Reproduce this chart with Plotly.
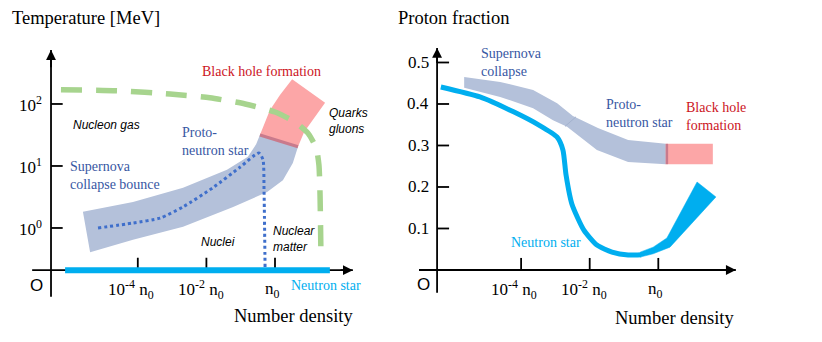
import plotly.graph_objects as go

SERIF = "Liberation Serif"
SANS = "Liberation Sans"
BAND = "#B4C1DA"
PINK = "#FCA6A7"
SEAM = "#C97A8C"
GREEN = "#A7D48E"
DOTBLUE = "#3F6FCB"
CYAN = "#00AEEF"
TXTBLUE = "#3857A3"
TXTRED = "#CC1424"

# ---------------- Left panel: x = log10(n/n0), y = log10(T/MeV) ----------------
L_xticks = [-4, -2, 0]
L_xtick_labels = ["10<sup>-4</sup> n<sub>0</sub>", "10<sup>-2</sup> n<sub>0</sub>", "n<sub>0</sub>"]
L_xtick_label_x = [-4.20, -2.16, -0.06]
L_yticks = [0, 1, 2]
L_ytick_labels = ["10<sup>0</sup>", "10<sup>1</sup>", "10<sup>2</sup>"]
L_axis_x = -6.53          # temperature axis position
L_axis_y = -0.68          # density axis position
L_xaxis_span = [-7.08, 2.27]
L_yaxis_span = [-1.11, 2.87]

phase_x = [-6.24, -4.52, -3.06, -1.90, -0.87, 0.00, 0.58, 0.96, 1.20, 1.28, 1.31, 1.34]
phase_y = [2.23, 2.21, 2.16, 2.10, 2.00, 1.87, 1.71, 1.53, 1.29, 1.02, 0.61, -0.47]

sn_up_x = [-5.60, -4.14, -2.68, -1.40, -0.79, -0.55, -0.44]
sn_up_y = [0.26, 0.42, 0.65, 0.94, 1.15, 1.35, 1.50]
sn_lo_x = [-5.39, -4.14, -2.68, -1.22, -0.23, 0.23, 0.52, 0.67]
sn_lo_y = [-0.39, -0.19, 0.02, 0.34, 0.58, 0.77, 1.05, 1.31]

bh_x = [-0.44, -0.29, -0.15, 0.15, 0.50, 1.46, 1.11, 0.85, 0.67]
bh_y = [1.50, 1.71, 1.90, 2.15, 2.40, 2.02, 1.74, 1.55, 1.31]

traj_x = [-5.16, -4.14, -3.35, -2.68, -1.81, -1.02, -0.47, -0.35, -0.32, -0.29]
traj_y = [0.00, 0.08, 0.16, 0.34, 0.65, 0.98, 1.21, 1.10, 0.61, -0.63]

ns_left_x = [-6.12, 1.60]

# ---------------- Right panel: x = log10(n/n0), y = proton fraction ----------------
R_xticks = [-4, -2, 0]
R_xtick_labels = L_xtick_labels
R_xtick_label_x = [-4.21, -2.17, -0.07]
R_yticks = [0.1, 0.2, 0.3, 0.4, 0.5]
R_ytick_labels = ["0.1", "0.2", "0.3", "0.4", "0.5"]
R_axis_x = -6.45
R_axis_y = 0.0
R_xaxis_span = [-7.07, 2.26]
R_yaxis_span = [-0.055, 0.535]

pns_up_x = [-5.66, -4.61, -3.65, -2.95, -2.49, -1.76, -0.88, 0.22]
pns_up_y = [0.465, 0.453, 0.434, 0.402, 0.371, 0.342, 0.313, 0.304]
pns_lo_x = [-5.66, -4.61, -3.65, -3.07, -2.66, -1.79, -0.88, 0.22]
pns_lo_y = [0.439, 0.417, 0.390, 0.361, 0.345, 0.289, 0.260, 0.255]
seam_x = [-2.40, -2.72]
seam_y = [0.369, 0.346]

bh_r_x = [0.22, 1.59]
bh_r_y = [0.255, 0.304]

ns_x = [-6.34, -5.20, -4.22, -3.48, -2.95, -2.78, -2.69, -2.52, -2.17, -1.79, -1.35, -0.88, -0.50]
ns_y = [0.441, 0.417, 0.381, 0.349, 0.320, 0.289, 0.229, 0.159, 0.096, 0.060, 0.043, 0.036, 0.037]

wedge_x = [-0.53, -0.15, 0.25, 1.13, 1.68, 0.34, -0.15, -0.53]
wedge_y = [0.043, 0.055, 0.077, 0.212, 0.176, 0.055, 0.039, 0.031]

fig = go.Figure()


def trace(xs, ys, ax, color, width, dash=None, shape="linear", fill=None, fillcolor=None, smoothing=1.0):
    xa, ya = ("x", "y") if ax == 1 else ("x2", "y2")
    fig.add_trace(go.Scatter(
        x=xs, y=ys, mode="lines", xaxis=xa, yaxis=ya,
        line=dict(color=color, width=width, dash=dash, shape=shape,
                  smoothing=smoothing if shape == "spline" else None),
        fill=fill, fillcolor=fillcolor, hoverinfo="skip", showlegend=False))


def text(ax, x, y, s, size, color="black", family=SERIF, xanchor="center", align="left"):
    xa, ya = ("x", "y") if ax == 1 else ("x2", "y2")
    fig.add_annotation(x=x, y=y, xref=xa, yref=ya, text=s, showarrow=False,
                       font=dict(family=family, size=size, color=color),
                       xanchor=xanchor, yanchor="middle", align=align)


def arrowhead(ax, tip, tail):
    xa, ya = ("x", "y") if ax == 1 else ("x2", "y2")
    fig.add_annotation(x=tip[0], y=tip[1], ax=tail[0], ay=tail[1], xref=xa, yref=ya,
                       axref=xa, ayref=ya, text="", showarrow=True, arrowhead=2,
                       arrowsize=1.1, arrowwidth=1.8, arrowcolor="black")


# ----- left panel marks -----
trace(sn_up_x + sn_lo_x[::-1], sn_up_y + sn_lo_y[::-1], 1, "rgba(0,0,0,0)", 0,
      fill="toself", fillcolor=BAND)
trace(bh_x, bh_y, 1, "rgba(0,0,0,0)", 0, fill="toself", fillcolor=PINK)
trace([bh_x[0], bh_x[-1]], [bh_y[0], bh_y[-1]], 1, SEAM, 3)
trace(traj_x, traj_y, 1, DOTBLUE, 3, dash="3px,3px", shape="spline", smoothing=0.6)
trace(phase_x, phase_y, 1, GREEN, 5.5, dash="21px,14px", shape="spline", smoothing=0.6)

# axes
trace(L_xaxis_span, [L_axis_y, L_axis_y], 1, "black", 1.8)
trace([L_axis_x, L_axis_x], L_yaxis_span, 1, "black", 1.8)
for t in L_yticks:
    trace([L_axis_x, L_axis_x + 0.34], [t, t], 1, "black", 1.8)
for t in L_xticks:
    trace([t, t], [L_axis_y, L_axis_y + 0.20], 1, "black", 1.8)
trace(ns_left_x, [L_axis_y, L_axis_y], 1, CYAN, 6)
arrowhead(1, (L_xaxis_span[1], L_axis_y), (L_xaxis_span[1] - 0.4, L_axis_y))
arrowhead(1, (L_axis_x, L_yaxis_span[1]), (L_axis_x, L_yaxis_span[1] - 0.3))

for t, s in zip(L_yticks, L_ytick_labels):
    text(1, -6.73, t, s, 17, xanchor="right")
for x, s in zip(L_xtick_label_x, L_xtick_labels):
    text(1, x, -1.0, s, 17)
text(1, -6.94, -0.92, "O", 17, family=SANS)
text(1, 0.55, -1.42, "Number density", 18.5)
text(1, 0.40, -0.92, "Neutron star", 14, color=CYAN, xanchor="left")
text(1, -5.51, 3.39, "Temperature [MeV]", 18.5)
text(1, -4.90, 1.66, "<i>Nucleon gas</i>", 12, family=SANS)
text(1, -2.77, 1.39, "Proto-<br>neutron star", 14, color=TXTBLUE, xanchor="left")
text(1, -6.03, 0.84, "Supernova<br>collapse bounce", 14, color=TXTBLUE, xanchor="left")
text(1, -0.38, 2.52, "Black hole formation", 14, color=TXTRED)
text(1, 1.52, 1.73, "<i>Quarks<br>gluons</i>", 12, family=SANS, xanchor="left")
text(1, -1.66, -0.23, "<i>Nuclei</i>", 12, family=SANS)
text(1, -0.12, -0.18, "<i>Nuclear<br>matter</i>", 12, family=SANS, xanchor="left")

# ----- right panel marks -----
trace(pns_up_x + pns_lo_x[::-1], pns_up_y + pns_lo_y[::-1], 2, "rgba(0,0,0,0)", 0,
      fill="toself", fillcolor=BAND)
trace(seam_x, seam_y, 2, "#A3B2CE", 1)
trace([bh_r_x[0], bh_r_x[1], bh_r_x[1], bh_r_x[0], bh_r_x[0]],
      [bh_r_y[0], bh_r_y[0], bh_r_y[1], bh_r_y[1], bh_r_y[0]], 2,
      "rgba(0,0,0,0)", 0, fill="toself", fillcolor=PINK)
trace([bh_r_x[0] + 0.03, bh_r_x[0] + 0.03], bh_r_y, 2, SEAM, 2.5)
trace(ns_x, ns_y, 2, CYAN, 5, shape="spline", smoothing=0.6)
trace(wedge_x, wedge_y, 2, CYAN, 0.5, fill="toself", fillcolor=CYAN)

trace(R_xaxis_span, [R_axis_y, R_axis_y], 2, "black", 1.8)
trace([R_axis_x, R_axis_x], R_yaxis_span, 2, "black", 1.8)
for t in R_yticks:
    trace([R_axis_x, R_axis_x + 0.35], [t, t], 2, "black", 1.8)
for t in R_xticks:
    trace([t, t], [R_axis_y, R_axis_y + 0.029], 2, "black", 1.8)
arrowhead(2, (R_xaxis_span[1], R_axis_y), (R_xaxis_span[1] - 0.4, R_axis_y))
arrowhead(2, (R_axis_x, R_yaxis_span[1]), (R_axis_x, R_yaxis_span[1] - 0.04))

for t, s in zip(R_yticks, R_ytick_labels):
    text(2, -6.63, t, s, 17, xanchor="right")
for x, s in zip(R_xtick_label_x, R_xtick_labels):
    text(2, x, -0.048, s, 17)
text(2, -6.84, -0.036, "O", 17, family=SANS)
text(2, 0.48, -0.116, "Number density", 18.5)
text(2, -5.96, 0.607, "Proton fraction", 18.5)
text(2, -5.23, 0.501, "Supernova<br>collapse", 14, color=TXTBLUE, xanchor="left")
text(2, -1.58, 0.376, "Proto-<br>neutron star", 14, color=TXTBLUE, xanchor="left")
text(2, 0.75, 0.371, "Black hole<br>formation", 14, color=TXTRED, xanchor="left")
text(2, -4.35, 0.067, "Neutron star", 14, color=CYAN, xanchor="left")

# The page body adds an 8 px offset, so the ranges start 8 px into the picture.
fig.update_layout(
    width=822, height=342, margin=dict(l=0, r=0, t=0, b=0),
    paper_bgcolor="white", plot_bgcolor="white", showlegend=False,
    xaxis=dict(domain=[0, 0.5], range=[-7.784, 4.198], visible=False),
    yaxis=dict(domain=[0, 1], range=[-1.968, 3.548], visible=False),
    xaxis2=dict(domain=[0.5, 1], range=[-6.977, 5.006], visible=False),
    yaxis2=dict(domain=[0, 1], range=[-0.1928, 0.6313], visible=False),
)

fig.write_html("out.html")
